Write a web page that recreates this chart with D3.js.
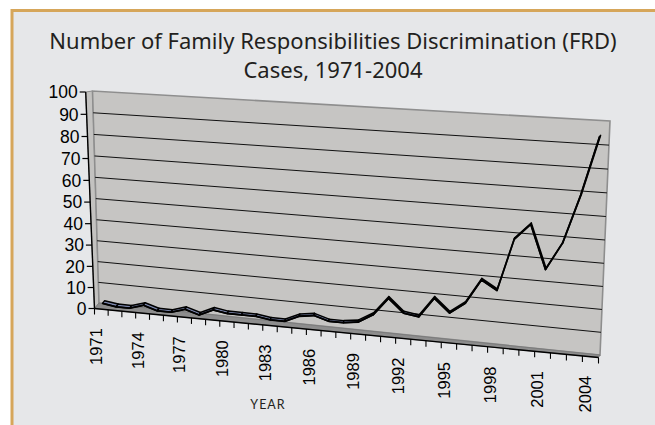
<!DOCTYPE html>
<html>
<head>
<meta charset="utf-8">
<script src="https://cdn.jsdelivr.net/npm/d3@7"></script>
<style>
  body { margin: 0; background: #fff; }
  svg { display: block; }
</style>
</head>
<body>
<svg id="chart" width="655" height="425"></svg>
<script>
// FRD cases per year
var years = d3.range(1971, 2005);
var cases = [2, 1, 1, 3, 1, 1, 3, 1, 4, 3,
             3, 3, 2, 2, 5, 6, 4, 4, 5, 9,
             17, 11, 10, 19, 13, 18, 29, 25, 48, 55,
             36, 48, 69, 94];
var yTicks = d3.range(0, 101, 10);
var xLabelYears = years.filter(function(d, i) { return i % 3 === 0; });

var TITLE = ['Number of Family Responsibilities Discrimination (FRD)', 'Cases, 1971-2004'];

// screen corners of the front and back planes of the 3D box
var FRONT = [[94.5, 308.5], [598.5, 357.5], [608, 123], [85.7, 92]],
    BACK = [[99, 303], [600, 355], [610, 121], [92.5, 91]];

// unit square -> quad (perspective)
function quad(p) {
    var x0 = p[0][0], y0 = p[0][1], x1 = p[1][0], y1 = p[1][1],
        x2 = p[2][0], y2 = p[2][1], x3 = p[3][0], y3 = p[3][1];
    var sx = x0 - x1 + x2 - x3, sy = y0 - y1 + y2 - y3,
        dx1 = x1 - x2, dx2 = x3 - x2, dy1 = y1 - y2, dy2 = y3 - y2,
        den = dx1 * dy2 - dx2 * dy1,
        g = (sx * dy2 - dx2 * sy) / den,
        h = (dx1 * sy - sx * dy1) / den,
        a = x1 - x0 + g * x1, b = x3 - x0 + h * x3,
        d = y1 - y0 + g * y1, e = y3 - y0 + h * y3;
    return function(u, v) {
        var w = g * u + h * v + 1;
        return [(a * u + b * v + x0) / w, (d * u + e * v + y0) / w];
    };
}

var front = quad(FRONT), back = quad(BACK);
function at(u, v, z) {   // z: 0 = front, 1 = back
    var f = front(u, v), b = back(u, v);
    return [f[0] + (b[0] - f[0]) * z, f[1] + (b[1] - f[1]) * z];
}

var x = d3.scaleBand().domain(years).range([0, 1]);
var y = d3.scaleLinear().domain([0, 100]).range([0, 1]);
function cx(yr) { return x(yr) + x.bandwidth() / 2; }

var svg = d3.select('#chart');
var line = d3.line();

// frame
svg.append('rect').attr('x', 12).attr('y', 10.5).attr('width', 700).attr('height', 500)
    .attr('fill', '#e6e7e9').attr('stroke', '#d6a65a').attr('stroke-width', 3);

// title, one text per line
svg.append('g').selectAll('text')
    .data(TITLE)
    .enter().append('text')
    .attr('x', 333)
    .attr('y', function(d, i) { return 49 + i * 29; })
    .attr('text-anchor', 'middle')
    .attr('font-family', '"Noto Sans", "Open Sans", sans-serif')
    .attr('font-size', 22)
    .attr('fill', '#231f20')
    .text(function(d) { return d; });

// walls
var wallStroke = '#8e8e8e';
svg.append('path')   // left wall
    .attr('d', line([front(0, 0), front(0, 1), back(0, 1), back(0, 0)]) + 'Z')
    .attr('fill', '#c3c2c0').attr('stroke', wallStroke).attr('stroke-width', 1);
svg.append('path')   // back wall
    .attr('d', line([back(0, 0), back(1, 0), back(1, 1), back(0, 1)]) + 'Z')
    .attr('fill', '#c6c5c3').attr('stroke', wallStroke).attr('stroke-width', 1.6);

// gridlines
svg.append('g').selectAll('line')
    .data(yTicks.filter(function(d) { return d > 0 && d < 100; }))
    .enter().append('path')
    .attr('d', function(d) { return line([back(0, y(d)), back(1, y(d))]); })
    .attr('stroke', '#111').attr('stroke-width', 1).attr('fill', 'none');

// floor
svg.append('path')
    .attr('d', line([front(0, 0), front(1, 0), back(1, 0), back(0, 0)]) + 'Z')
    .attr('fill', '#8d8d8d').attr('stroke', '#777').attr('stroke-width', 0.8);

// series ribbon
var Z_FRONT = 0.3, Z_BACK = 0.8;
var pts = years.map(function(yr, i) { return [cx(yr), y(cases[i])]; });
var segs = d3.pairs(pts);
svg.append('g').selectAll('path')
    .data(segs)
    .enter().append('path')
    .attr('d', function(s) {
        return line([at(s[0][0], s[0][1], Z_FRONT), at(s[1][0], s[1][1], Z_FRONT),
                     at(s[1][0], s[1][1], Z_BACK), at(s[0][0], s[0][1], Z_BACK)]) + 'Z';
    })
    .attr('fill', '#7c87ad')
    .attr('stroke', '#000').attr('stroke-width', 1.5).attr('stroke-linejoin', 'round');
svg.append('path')
    .attr('d', line(pts.map(function(p) { return at(p[0], p[1], Z_FRONT); })))
    .attr('fill', 'none').attr('stroke', '#000').attr('stroke-width', 1.8)
    .attr('stroke-linejoin', 'round');

// y axis
svg.append('path').attr('d', line([front(0, 0), front(0, 1)]))
    .attr('stroke', '#000').attr('stroke-width', 1.4);
var yAxis = svg.append('g').selectAll('g').data(yTicks).enter().append('g')
    .attr('transform', function(d) {
        var p = front(0, y(d));
        return 'translate(' + p[0] + ',' + p[1] + ')';
    });
yAxis.append('line').attr('x1', -6).attr('x2', 0).attr('stroke', '#000').attr('stroke-width', 1.2);
yAxis.append('text')
    .attr('x', -8).attr('dy', '0.36em')
    .attr('text-anchor', 'end')
    .attr('font-family', '"Liberation Sans", Arial, sans-serif')
    .attr('font-size', 17.5)
    .text(function(d) { return d; });

// x axis
svg.append('path').attr('d', line([front(0, 0), front(1, 0)]))
    .attr('stroke', '#000').attr('stroke-width', 1.4);
var bounds = years.map(function(yr) { return x(yr); }).concat([1]);
svg.append('g').selectAll('line').data(bounds).enter().append('line')
    .attr('x1', function(u) { return front(u, 0)[0]; })
    .attr('x2', function(u) { return front(u, 0)[0]; })
    .attr('y1', function(u) { return front(u, 0)[1]; })
    .attr('y2', function(u) { return front(u, 0)[1] + 6; })
    .attr('stroke', '#000').attr('stroke-width', 1.1);
svg.append('g').selectAll('text').data(xLabelYears).enter().append('text')
    .attr('transform', function(yr) {
        var p = front(cx(yr), 0);
        return 'translate(' + (p[0] - 5) + ',' + (p[1] + 19) + ') rotate(-90)';
    })
    .attr('dy', '0.36em')
    .attr('text-anchor', 'end')
    .attr('font-family', '"Liberation Sans", Arial, sans-serif')
    .attr('font-size', 16.5)
    .text(function(d) { return d; });

svg.append('text')
    .attr('x', 268).attr('y', 409)
    .attr('text-anchor', 'middle')
    .attr('font-family', 'Lato, "Open Sans", sans-serif')
    .attr('font-size', 12.5)
    .attr('letter-spacing', 1)
    .attr('fill', '#231f20')
    .text('YEAR');
</script>
</body>
</html>
